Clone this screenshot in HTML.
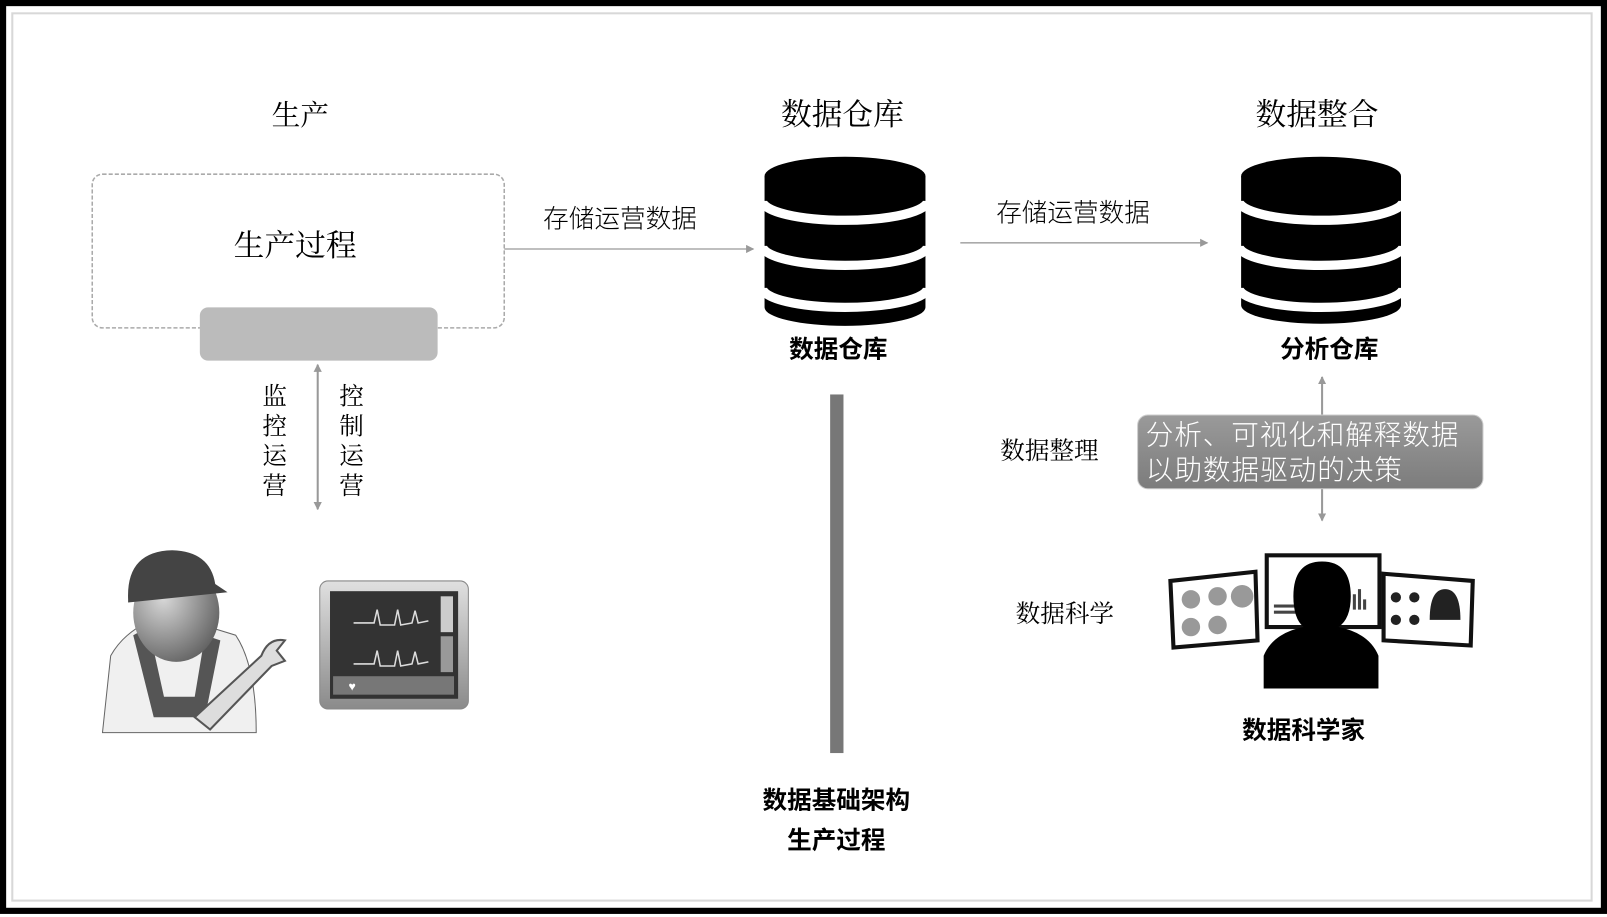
<!DOCTYPE html>
<html><head><meta charset="utf-8">
<style>
html,body{margin:0;padding:0;background:#fff;}
svg{display:block;}
.s{font-family:"Noto Serif CJK SC","Liberation Serif",serif;}
.h{font-family:"Liberation Sans","Noto Sans CJK SC",sans-serif;}
</style></head><body>
<svg width="1607" height="917" viewBox="0 0 1568 895" preserveAspectRatio="none" xmlns="http://www.w3.org/2000/svg">
<defs>
<marker id="ar" markerWidth="8" markerHeight="8" refX="7" refY="4" orient="auto-start-reverse" markerUnits="userSpaceOnUse">
<path d="M0,0 L8,4 L0,8 z" fill="#999"/></marker>
<linearGradient id="bx" x1="0" y1="0" x2="0" y2="1"><stop offset="0" stop-color="#9a9a9a"/><stop offset="1" stop-color="#7c7c7c"/></linearGradient>
<radialGradient id="hd" cx="0.35" cy="0.35" r="0.8"><stop offset="0" stop-color="#d8d8d8"/><stop offset="1" stop-color="#555"/></radialGradient>
<linearGradient id="mn" x1="0" y1="0" x2="0" y2="1"><stop offset="0" stop-color="#e0e0e0"/><stop offset="1" stop-color="#8a8a8a"/></linearGradient>
</defs>
<rect x="0" y="0" width="1568" height="895" fill="#fff"/>
<rect x="3" y="3" width="1562" height="886" fill="none" stroke="#000" stroke-width="6"/>
<rect x="12" y="13" width="1541" height="866" fill="none" stroke="#d8d8d8" stroke-width="2"/>

<!-- left -->
<text x="293" y="122" class="s" font-size="28" text-anchor="middle">生产</text>
<rect x="90" y="170" width="402" height="150" rx="10" fill="none" stroke="#aaa" stroke-width="1.5" stroke-dasharray="4,2"/>
<text x="288" y="250" class="s" font-size="30" text-anchor="middle">生产过程</text>
<rect x="195" y="300" width="232" height="52" rx="8" fill="#bbb"/>
<line x1="310" y1="356" x2="310" y2="497" stroke="#999" stroke-width="2" marker-end="url(#ar)" marker-start="url(#ar)"/>
<g class="s" font-size="24" text-anchor="middle">
<text x="268" y="395">监</text><text x="268" y="424">控</text><text x="268" y="453">运</text><text x="268" y="482">营</text>
<text x="343" y="395">控</text><text x="343" y="424">制</text><text x="343" y="453">运</text><text x="343" y="482">营</text>
</g>
<line x1="492" y1="243" x2="735" y2="243" stroke="#aaa" stroke-width="1.5" marker-end="url(#ar)"/>
<text x="605" y="222" class="h" font-size="25" font-weight="300" text-anchor="middle">存储运营数据</text>

<!-- worker -->
<g>
<path d="M100,715 L108,640 Q125,610 165,600 L230,620 Q250,650 250,715 Z" fill="#f0f0f0" stroke="#666"/>
<path d="M130,620 L150,700 L200,700 L215,625 L200,620 L190,680 L160,680 L145,612 Z" fill="#555"/>
<ellipse cx="172" cy="598" rx="42" ry="48" fill="url(#hd)"/>
<path d="M125,585 Q123,538 168,537 Q205,538 210,570 L222,578 L125,588 Z" fill="#444"/>
<path d="M190,700 L255,640 Q262,622 278,625 L270,635 L278,645 L265,650 L205,712 Z" fill="#ddd" stroke="#555" stroke-width="2"/>
</g>
<!-- monitor -->
<rect x="312" y="567" width="145" height="125" rx="8" fill="url(#mn)" stroke="#888"/>
<rect x="322" y="577" width="125" height="105" fill="#333"/>
<rect x="430" y="582" width="12" height="35" fill="#ccc"/>
<rect x="430" y="621" width="12" height="35" fill="#999"/>
<rect x="325" y="660" width="118" height="18" fill="#777"/>
<path d="M345,608 L365,608 L368,595 L371,610 L385,610 L388,595 L391,610 L402,608 L405,596 L408,608 L418,606" stroke="#ddd" fill="none" stroke-width="1.5"/>
<path d="M345,648 L365,648 L368,635 L371,650 L385,650 L388,635 L391,650 L402,648 L405,636 L408,648 L418,646" stroke="#ddd" fill="none" stroke-width="1.5"/>
<text x="340" y="674" font-size="12" fill="#fff" class="h">♥</text>

<!-- middle -->
<text x="822" y="122" class="s" font-size="30" text-anchor="middle">数据仓库</text>
<g fill="#000">
<path d="M746,172 L746,300 A78.5,18 0 0 0 903,300 L903,172 Z"/>
<ellipse cx="824.5" cy="172" rx="78.5" ry="19"/>
</g>
<g fill="none" stroke="#fff" stroke-width="9">
<path d="M744,196 A80.5,19 0 0 0 905,196"/>
<path d="M744,240 A80.5,19 0 0 0 905,240"/>
<path d="M744,281 A80.5,19 0 0 0 905,281"/>
</g>
<text x="818" y="349" class="h" font-size="24" font-weight="bold" text-anchor="middle">数据仓库</text>
<rect x="810" y="385" width="13" height="350" fill="#777"/>
<text x="816" y="789" class="h" font-size="24" font-weight="bold" text-anchor="middle">数据基础架构</text>
<text x="816" y="828" class="h" font-size="24" font-weight="bold" text-anchor="middle">生产过程</text>

<line x1="937" y1="237" x2="1178" y2="237" stroke="#aaa" stroke-width="1.5" marker-end="url(#ar)"/>
<text x="1047" y="216" class="h" font-size="25" font-weight="300" text-anchor="middle">存储运营数据</text>

<!-- right -->
<text x="1285" y="122" class="s" font-size="30" text-anchor="middle">数据整合</text>
<g fill="#000">
<path d="M1211,172 L1211,298 A78,18 0 0 0 1367,298 L1367,172 Z"/>
<ellipse cx="1289" cy="172" rx="78" ry="19"/>
</g>
<g fill="none" stroke="#fff" stroke-width="9">
<path d="M1209,196 A80,19 0 0 0 1369,196"/>
<path d="M1209,240 A80,19 0 0 0 1369,240"/>
<path d="M1209,281 A80,19 0 0 0 1369,281"/>
</g>
<text x="1297" y="349" class="h" font-size="24" font-weight="bold" text-anchor="middle">分析仓库</text>
<line x1="1290" y1="368" x2="1290" y2="508" stroke="#999" stroke-width="2" marker-end="url(#ar)" marker-start="url(#ar)"/>
<rect x="1110" y="405" width="337" height="72" rx="10" fill="url(#bx)" stroke="#ccc"/>
<text x="1118" y="434" class="h" font-size="27" font-weight="300" fill="#fff" textLength="305">分析、可视化和解释数据</text>
<text x="1118" y="468" class="h" font-size="27" font-weight="300" fill="#fff" textLength="250">以助数据驱动的决策</text>
<text x="1024" y="448" class="s" font-size="24" text-anchor="middle">数据整理</text>
<text x="1039" y="607" class="s" font-size="24" text-anchor="middle">数据科学</text>

<!-- scientist -->
<polygon points="1142,567 1225,558 1227,625 1145,632" fill="#fff" stroke="#111" stroke-width="4"/>
<g fill="#999"><circle cx="1162" cy="585" r="9"/><circle cx="1188" cy="582" r="9"/><circle cx="1212" cy="582" r="11"/><circle cx="1162" cy="612" r="9"/><circle cx="1188" cy="610" r="9"/></g>
<rect x="1236" y="542" width="110" height="70" fill="#fff" stroke="#111" stroke-width="4"/>
<rect x="1243" y="590" width="20" height="3" fill="#444"/><rect x="1243" y="596" width="26" height="3" fill="#444"/>
<rect x="1320" y="580" width="3" height="15" fill="#444"/><rect x="1325" y="575" width="3" height="20" fill="#444"/><rect x="1330" y="585" width="3" height="10" fill="#444"/>
<polygon points="1350,560 1437,567 1435,630 1350,625" fill="#fff" stroke="#111" stroke-width="4"/>
<g fill="#222"><circle cx="1362" cy="583" r="5"/><circle cx="1380" cy="583" r="5"/><circle cx="1362" cy="605" r="5"/><circle cx="1380" cy="605" r="5"/><path d="M1395,605 Q1395,575 1410,575 Q1425,575 1425,605 Z"/></g>
<path d="M1290,548 Q1318,548 1318,582 Q1318,604 1306,612 Q1336,618 1345,640 L1345,672 L1233,672 L1233,640 Q1242,618 1272,612 Q1262,604 1262,582 Q1262,548 1290,548 Z" fill="#000"/>
<text x="1272" y="721" class="h" font-size="24" font-weight="bold" text-anchor="middle">数据科学家</text>
</svg>
</body></html>
